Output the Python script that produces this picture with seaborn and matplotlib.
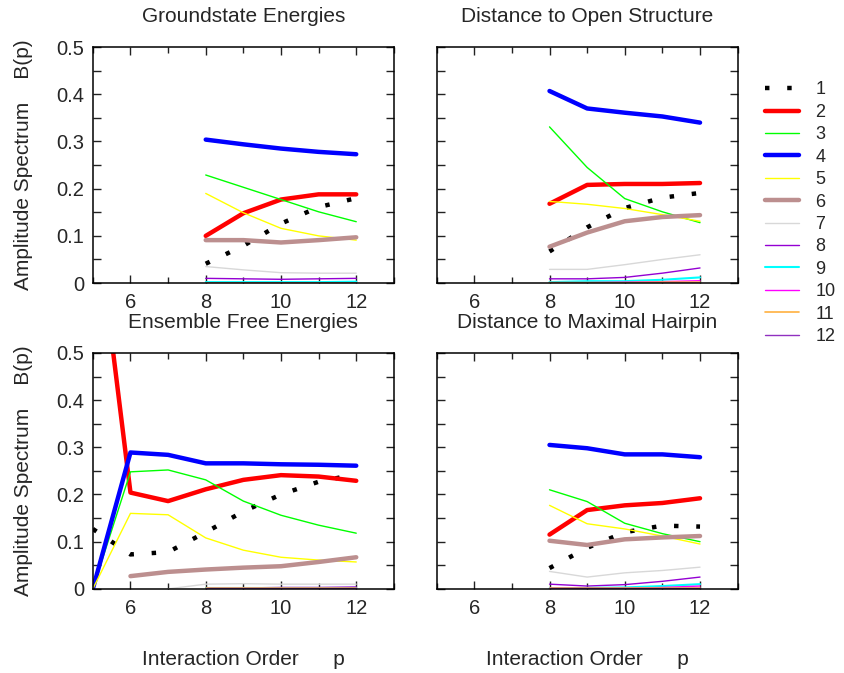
import numpy as np
import pandas as pd
import matplotlib
matplotlib.use('Agg')
import matplotlib.pyplot as plt
import seaborn as sns
from matplotlib.ticker import MultipleLocator, FixedLocator

nan = np.nan

# interaction order p and series names
p = [5, 6, 7, 8, 9, 10, 11, 12]
series = ['1', '2', '3', '4', '5', '6', '7', '8', '9', '10', '11', '12']
colors = ['black', '#ff0000', '#00ff00', '#0000ff', '#ffff00', '#bc8f8f',
          '#d8d8d8', '#9400d3', '#00ffff', '#ff00ff', '#ffb040', '#9030c0']
widths = [3.2, 3.2, 1.0, 3.2, 1.0, 3.2, 1.0, 1.0, 1.5, 1.0, 1.2, 1.0]

# amplitude spectrum B(p), one row per series, columns follow p
groundstate = [
    [nan, nan, nan, 0.041, 0.079, 0.126, 0.161, 0.180],
    [nan, nan, nan, 0.100, 0.148, 0.177, 0.188, 0.188],
    [nan, nan, nan, 0.229, 0.203, 0.177, 0.151, 0.130],
    [nan, nan, nan, 0.304, 0.294, 0.285, 0.278, 0.273],
    [nan, nan, nan, 0.190, 0.149, 0.116, 0.100, 0.091],
    [nan, nan, nan, 0.091, 0.091, 0.086, 0.091, 0.097],
    [nan, nan, nan, 0.035, 0.028, 0.022, 0.021, 0.021],
    [nan, nan, nan, 0.010, 0.009, 0.008, 0.009, 0.010],
    [nan, nan, nan, 0.002, 0.002, 0.002, 0.002, 0.003],
    [nan, nan, nan, 0.001, 0.001, 0.001, 0.001, 0.001],
    [nan, nan, nan, 0.001, 0.001, 0.001, 0.001, 0.001],
    [nan, nan, nan, 0.001, 0.001, 0.001, 0.001, 0.001],
]
open_structure = [
    [nan, nan, nan, 0.067, 0.118, 0.159, 0.181, 0.191],
    [nan, nan, nan, 0.168, 0.208, 0.210, 0.210, 0.212],
    [nan, nan, nan, 0.331, 0.245, 0.179, 0.151, 0.128],
    [nan, nan, nan, 0.407, 0.370, 0.361, 0.353, 0.340],
    [nan, nan, nan, 0.173, 0.167, 0.158, 0.145, 0.131],
    [nan, nan, nan, 0.077, 0.107, 0.131, 0.140, 0.144],
    [nan, nan, nan, 0.029, 0.029, 0.039, 0.050, 0.060],
    [nan, nan, nan, 0.009, 0.009, 0.012, 0.021, 0.032],
    [nan, nan, nan, 0.002, 0.004, 0.004, 0.007, 0.012],
    [nan, nan, nan, 0.001, 0.001, 0.002, 0.003, 0.005],
    [nan, nan, nan, 0.001, 0.001, 0.001, 0.002, 0.002],
    [nan, nan, nan, 0.001, 0.001, 0.001, 0.001, 0.001],
]
ensemble = [
    [0.127, 0.073, 0.078, 0.120, 0.164, 0.200, 0.227, 0.243],
    [0.850, 0.204, 0.186, 0.211, 0.231, 0.241, 0.238, 0.229],
    [0.000, 0.248, 0.252, 0.231, 0.186, 0.156, 0.135, 0.118],
    [0.000, 0.289, 0.284, 0.266, 0.266, 0.264, 0.263, 0.261],
    [0.000, 0.160, 0.157, 0.108, 0.082, 0.067, 0.061, 0.057],
    [nan, 0.027, 0.036, 0.041, 0.045, 0.048, 0.057, 0.067],
    [nan, nan, 0.000, 0.010, 0.011, 0.010, 0.010, 0.010],
    [nan, nan, nan, 0.002, 0.002, 0.003, 0.003, 0.004],
    [nan, nan, nan, 0.001, 0.001, 0.001, 0.001, 0.001],
    [nan, nan, nan, 0.001, 0.001, 0.001, 0.001, 0.001],
    [nan, nan, nan, 0.001, 0.001, 0.001, 0.001, 0.001],
    [nan, nan, nan, 0.001, 0.001, 0.001, 0.001, 0.001],
]
hairpin = [
    [nan, nan, nan, 0.044, 0.087, 0.120, 0.134, 0.132],
    [nan, nan, nan, 0.115, 0.167, 0.177, 0.182, 0.192],
    [nan, nan, nan, 0.210, 0.185, 0.139, 0.117, 0.100],
    [nan, nan, nan, 0.305, 0.298, 0.285, 0.285, 0.279],
    [nan, nan, nan, 0.177, 0.138, 0.127, 0.112, 0.095],
    [nan, nan, nan, 0.102, 0.093, 0.105, 0.109, 0.112],
    [nan, nan, nan, 0.037, 0.025, 0.034, 0.039, 0.046],
    [nan, nan, nan, 0.010, 0.006, 0.009, 0.016, 0.025],
    [nan, nan, nan, 0.001, 0.002, 0.003, 0.006, 0.010],
    [nan, nan, nan, 0.001, 0.001, 0.001, 0.003, 0.006],
    [nan, nan, nan, 0.001, 0.001, 0.001, 0.001, 0.001],
    [nan, nan, nan, 0.001, 0.001, 0.001, 0.001, 0.001],
]

titles = ['Groundstate Energies', 'Distance to Open Structure',
          'Ensemble Free Energies', 'Distance to Maximal Hairpin']
panels = [groundstate, open_structure, ensemble, hairpin]
xticks = [6, 8, 10, 12]
yticks = [0, 0.1, 0.2, 0.3, 0.4, 0.5]
ytick_labels = ['0', '0.1', '0.2', '0.3', '0.4', '0.5']

sns.set_style('ticks')
plt.rcParams['font.family'] = ['Liberation Sans', 'DejaVu Sans']
plt.rcParams['font.size'] = 15

fig, axs = plt.subplots(2, 2, figsize=(8.44, 6.73), dpi=100)
fig.subplots_adjust(left=0.110, right=0.874, top=0.930, bottom=0.125,
                    wspace=0.142, hspace=0.296)

for i, ax in enumerate(axs.flat):
    df = pd.DataFrame(panels[i], index=series, columns=p).T
    df.index.name = 'p'
    long = df.reset_index().melt(id_vars='p', var_name='k', value_name='B')
    for j, s in enumerate(series):
        sub = long[long['k'] == s].dropna()
        kw = {}
        if j == 0:
            kw = dict(linestyle=(0, (1, 4)), dash_capstyle='butt')
        sns.lineplot(data=sub, x='p', y='B', color=colors[j], lw=widths[j],
                     ax=ax, label=s, estimator=None, **kw)
    if ax.get_legend() is not None:
        ax.get_legend().remove()

    ax.set_xlim(5, 13)
    ax.set_ylim(0, 0.5)
    ax.xaxis.set_major_locator(FixedLocator(xticks))
    ax.xaxis.set_minor_locator(MultipleLocator(1))
    ax.yaxis.set_major_locator(FixedLocator(yticks))
    ax.yaxis.set_minor_locator(MultipleLocator(0.05))
    ax.tick_params(which='both', direction='in', top=True, right=True,
                   width=1, color='#222222', labelsize=14.5)
    ax.tick_params(axis='x', which='major', length=6, pad=7)
    ax.tick_params(axis='x', which='minor', length=4)
    ax.tick_params(axis='y', which='both', length=6, pad=6)
    for sp in ax.spines.values():
        sp.set_linewidth(1.1)
        sp.set_color('black')
    ax.set_title(titles[i], pad=18, fontsize=15)
    if i % 2 == 0:
        ax.set_yticklabels(ytick_labels)
        ax.set_ylabel('Amplitude Spectrum    B(p)', fontsize=15)
        ax.yaxis.set_label_coords(-0.20, 0.5)
    else:
        ax.set_yticklabels([])
        ax.set_ylabel('')
    if i >= 2:
        ax.set_xlabel('Interaction Order      p', labelpad=23, fontsize=15)
    else:
        ax.set_xlabel('')

handles, labels = axs[0, 0].get_legend_handles_labels()
fig.legend(handles, labels, loc='upper left', bbox_to_anchor=(0.906, 0.879),
           frameon=False, borderpad=0, borderaxespad=0, handlelength=1.9,
           handletextpad=0.9, labelspacing=0.30, fontsize=13)

fig.savefig('out.png', dpi=100)
